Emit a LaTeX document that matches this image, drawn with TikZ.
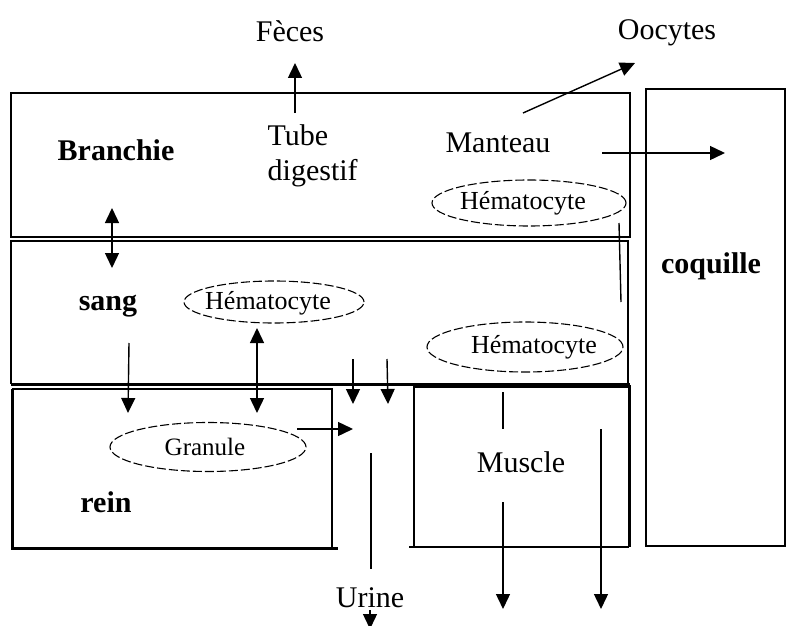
\documentclass[tikz,border=0pt]{standalone}
\usepackage{fontspec}
\setmainfont{Liberation Serif}
\usetikzlibrary{shapes, arrows.meta, positioning, calc}

\begin{document}
\begin{tikzpicture}[x=1pt, y=-1pt, line width=1.4pt,
                    >={Triangle[length=15pt, width=14pt]},
                    lbl/.style={font=\fontsize{30}{35}\selectfont, inner sep=0pt, anchor=base},
                    organ/.style={lbl, font=\fontsize{30}{35}\selectfont\bfseries},
                    cell/.style={ellipse, draw, dash pattern=on 9pt off 3pt, line width=1.1pt, inner sep=0pt},
                    celltext/.style={inner sep=0pt, font=\fontsize{26}{30}\selectfont},
                    heavy/.style={line width=3pt}]

                    \useasboundingbox (0, 0) rectangle (787, 626);

                    \draw (11, 93) rectangle (630, 237);
                    \draw (11, 384) -- (11, 241) -- (628, 241) -- (628, 384);
                    \draw [heavy] (11, 384) -- (630, 384);
                    \draw (12, 389) -- (332, 389) -- (332, 548);
                    \draw [heavy] (12, 389) -- (12, 548) -- (338, 548);
                    \draw (409, 547) -- (629, 547);
                    \draw (414, 547) -- (414, 386);
                    \draw [heavy] (414, 386) -- (629, 386) -- (629, 547);
                    \draw (646, 89) rectangle (785, 546);

                    \node [lbl] (feces) at (290, 42) {Fèces};
                    \node [lbl] (oocytes) at (667, 40) {Oocytes};
                    \node [organ] (branchie) at (116, 160) {Branchie};
                    \node [lbl, align=left, anchor=north west] (tube) at (267, 124) {Tube\\digestif};
                    \node [lbl] (manteau) at (498, 152) {Manteau};
                    \node [organ] (coquille) at (711, 273) {coquille};
                    \node [organ] (sang) at (108, 310) {sang};
                    \node [organ] (rein) at (106, 512) {rein};
                    \node [lbl] (muscle) at (521, 472) {Muscle};
                    \node [lbl] (urine) at (370, 607) {Urine};

                    \node [cell, minimum width=180pt, minimum height=42pt,
                           label={[celltext, xshift=-6pt, yshift=-1pt]center:Hématocyte}] (hemaSang) at (274, 302) {};
                    \node [cell, minimum width=194pt, minimum height=46pt,
                           label={[celltext, xshift=-6pt]center:Hématocyte}] (hemaManteau) at (529, 203) {};
                    \node [cell, minimum width=196pt, minimum height=50pt,
                           label={[celltext, xshift=9pt]center:Hématocyte}] (hemaBas) at (525, 347) {};
                    \node [cell, minimum width=196pt, minimum height=49pt,
                           label={[celltext, xshift=-3pt, font=\fontsize{25}{30}\selectfont]center:Granule}] (granule) at (208, 447) {};

                    \coordinate (tubeOut) at (295, 113);
                    \coordinate (fecesIn) at (295, 63);
                    \coordinate (manteauUp) at (523, 113);
                    \coordinate (oocytesIn) at (635, 63);
                    \coordinate (manteauRight) at (602, 153);
                    \coordinate (coquilleIn) at (725, 153);
                    \coordinate (branchieEx) at (112, 208);
                    \coordinate (sangEx) at (112, 268);
                    \coordinate (sangOut) at (129, 343);
                    \coordinate (reinIn) at (128, 413);
                    \coordinate (hemaIn) at (257, 328);
                    \coordinate (granuleIn) at (257, 413);
                    \coordinate (leftOut) at (353, 359);
                    \coordinate (leftIn) at (353, 404);
                    \coordinate (rightOut) at (387, 359);
                    \coordinate (rightIn) at (388, 404);
                    \coordinate (granuleOut) at (297, 429);
                    \coordinate (urineIn) at (353, 429);
                    \coordinate (urineTop) at (371, 453);
                    \coordinate (urineBottom) at (371, 569);
                    \coordinate (urineOut) at (370, 610);
                    \coordinate (urineEnd) at (370, 629);
                    \coordinate (manteauLink) at (619, 223);
                    \coordinate (sangLink) at (621, 302);
                    \coordinate (muscleTop) at (503, 392);
                    \coordinate (muscleMid) at (503, 429);
                    \coordinate (muscleLow) at (503, 502);
                    \coordinate (muscleOut) at (503, 609);
                    \coordinate (muscleSide) at (601, 429);
                    \coordinate (muscleSideOut) at (601, 609);

                    \draw [->] (tubeOut) -- (fecesIn);
                    \draw [->] (manteauUp) -- (oocytesIn);
                    \draw [->] (manteauRight) -- (coquilleIn);
                    \draw [<->] (branchieEx) -- (sangEx);
                    \draw [->] (sangOut) -- (reinIn);
                    \draw [<->] (hemaIn) -- (granuleIn);
                    \draw [->] (leftOut) -- (leftIn);
                    \draw [->] (rightOut) -- (rightIn);
                    \draw [->] (granuleOut) -- (urineIn);
                    \draw (urineTop) -- (urineBottom);
                    \draw [->] (urineOut) -- (urineEnd);
                    \draw (manteauLink) -- (sangLink);
                    \draw (muscleTop) -- (muscleMid);
                    \draw [->] (muscleLow) -- (muscleOut);
                    \draw [->] (muscleSide) -- (muscleSideOut);
                \end{tikzpicture}
\end{document}
